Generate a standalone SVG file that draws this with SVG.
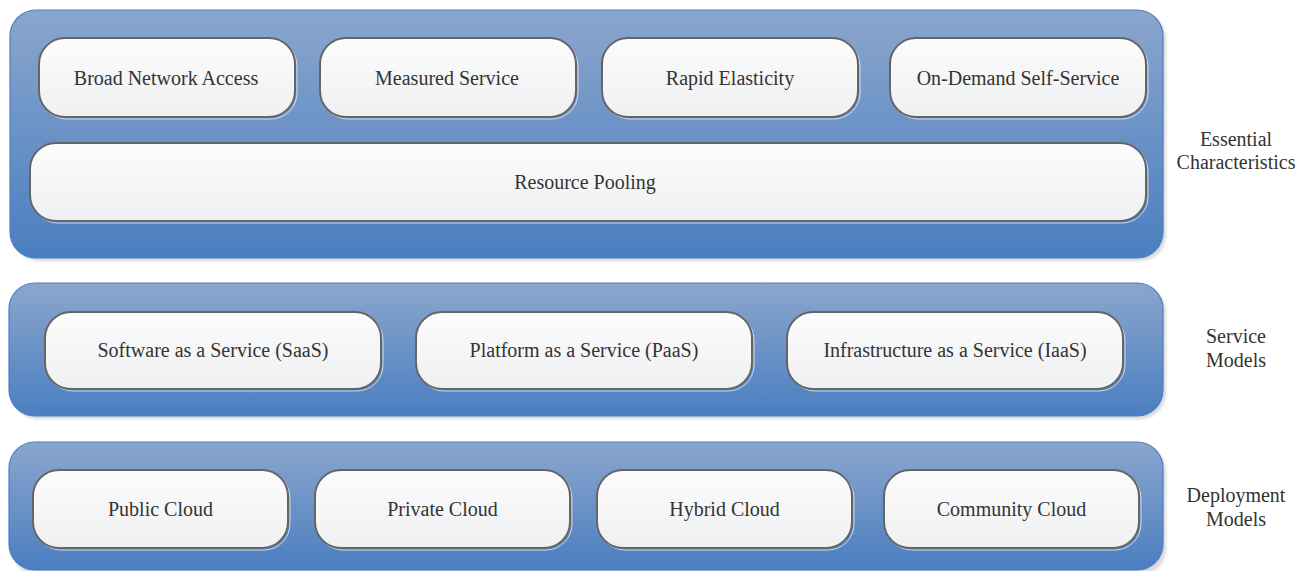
<svg xmlns="http://www.w3.org/2000/svg" width="1305" height="571" viewBox="0 0 1305 571">
  <defs>
    <linearGradient id="panelFill" x1="0" y1="0" x2="0" y2="1">
      <stop offset="0" stop-color="#8ba6cd"/>
      <stop offset="1" stop-color="#4a7ec0"/>
    </linearGradient>
    <linearGradient id="boxFill" x1="0" y1="0" x2="0" y2="1">
      <stop offset="0" stop-color="#fcfcfd"/>
      <stop offset="1" stop-color="#eff0f1"/>
    </linearGradient>
    <filter id="soft" x="-5%" y="-5%" width="110%" height="110%">
      <feGaussianBlur stdDeviation="1.5"/>
    </filter>
  </defs>
  <style>
    .panel-shadow { fill: #d9d9d9; filter: url(#soft); }
    .panel { fill: url(#panelFill); stroke: #4a7fc4; stroke-width: 1.2; }
    .glow { fill: none; stroke: #ffffff; stroke-opacity: 0.75; stroke-width: 0.9; }
    .box { fill: url(#boxFill); stroke: #656565; stroke-width: 2; }
    .label { font-family: "Liberation Serif", "Times New Roman", serif; font-size: 20px; fill: #333333; text-anchor: middle; }
  </style>
  <rect width="1305" height="571" fill="#ffffff"/>

  <!-- layer panels -->
  <g id="panel-essential">
    <rect class="panel-shadow" x="13" y="13" width="1153" height="248" rx="26"/>
    <rect class="panel" x="10" y="10" width="1153" height="248" rx="26"/>
  </g>
  <g id="panel-service">
    <rect class="panel-shadow" x="12" y="286" width="1154" height="133" rx="26"/>
    <rect class="panel" x="9" y="283" width="1154" height="133" rx="26"/>
  </g>
  <g id="panel-deployment">
    <rect class="panel-shadow" x="12" y="445" width="1154" height="130" rx="26"/>
    <rect class="panel" x="9" y="442" width="1154" height="128" rx="26"/>
  </g>

  <!-- essential characteristics -->
  <g id="broad-network-access">
    <rect class="glow" x="41" y="40" width="256" height="79" rx="26"/>
    <rect class="box" x="39" y="38" width="256" height="79" rx="26"/>
    <text class="label" x="166" y="84.5">Broad Network Access</text>
  </g>
  <g id="measured-service">
    <rect class="glow" x="322" y="40" width="256" height="79" rx="26"/>
    <rect class="box" x="320" y="38" width="256" height="79" rx="26"/>
    <text class="label" x="447" y="84.5">Measured Service</text>
  </g>
  <g id="rapid-elasticity">
    <rect class="glow" x="604" y="40" width="256" height="79" rx="26"/>
    <rect class="box" x="602" y="38" width="256" height="79" rx="26"/>
    <text class="label" x="730" y="84.5">Rapid Elasticity</text>
  </g>
  <g id="on-demand-self-service">
    <rect class="glow" x="892" y="40" width="256" height="79" rx="26"/>
    <rect class="box" x="890" y="38" width="256" height="79" rx="26"/>
    <text class="label" x="1018" y="84.5">On-Demand Self-Service</text>
  </g>
  <g id="resource-pooling">
    <rect class="glow" x="32" y="145" width="1116" height="78" rx="26"/>
    <rect class="box" x="30" y="143" width="1116" height="78" rx="26"/>
    <text class="label" x="585" y="189">Resource Pooling</text>
  </g>

  <!-- service models -->
  <g id="saas">
    <rect class="glow" x="47" y="314" width="336" height="77" rx="26"/>
    <rect class="box" x="45" y="312" width="336" height="77" rx="26"/>
    <text class="label" x="213" y="357">Software as a Service (SaaS)</text>
  </g>
  <g id="paas">
    <rect class="glow" x="418" y="314" width="336" height="77" rx="26"/>
    <rect class="box" x="416" y="312" width="336" height="77" rx="26"/>
    <text class="label" x="584" y="357">Platform as a Service (PaaS)</text>
  </g>
  <g id="iaas">
    <rect class="glow" x="789" y="314" width="336" height="77" rx="26"/>
    <rect class="box" x="787" y="312" width="336" height="77" rx="26"/>
    <text class="label" x="955" y="357">Infrastructure as a Service (IaaS)</text>
  </g>

  <!-- deployment models -->
  <g id="public-cloud">
    <rect class="glow" x="35" y="472" width="255" height="78" rx="26"/>
    <rect class="box" x="33" y="470" width="255" height="78" rx="26"/>
    <text class="label" x="160.5" y="516">Public Cloud</text>
  </g>
  <g id="private-cloud">
    <rect class="glow" x="317" y="472" width="255" height="78" rx="26"/>
    <rect class="box" x="315" y="470" width="255" height="78" rx="26"/>
    <text class="label" x="442.5" y="516">Private Cloud</text>
  </g>
  <g id="hybrid-cloud">
    <rect class="glow" x="599" y="472" width="255" height="78" rx="26"/>
    <rect class="box" x="597" y="470" width="255" height="78" rx="26"/>
    <text class="label" x="724.5" y="516">Hybrid Cloud</text>
  </g>
  <g id="community-cloud">
    <rect class="glow" x="886" y="472" width="255" height="78" rx="26"/>
    <rect class="box" x="884" y="470" width="255" height="78" rx="26"/>
    <text class="label" x="1011.5" y="516">Community Cloud</text>
  </g>

  <!-- layer captions -->
  <g id="caption-essential">
    <text class="label" x="1236" y="146">Essential</text>
    <text class="label" x="1236" y="169">Characteristics</text>
  </g>
  <g id="caption-service">
    <text class="label" x="1236" y="343">Service</text>
    <text class="label" x="1236" y="367">Models</text>
  </g>
  <g id="caption-deployment">
    <text class="label" x="1236" y="502">Deployment</text>
    <text class="label" x="1236" y="526">Models</text>
  </g>
</svg>
